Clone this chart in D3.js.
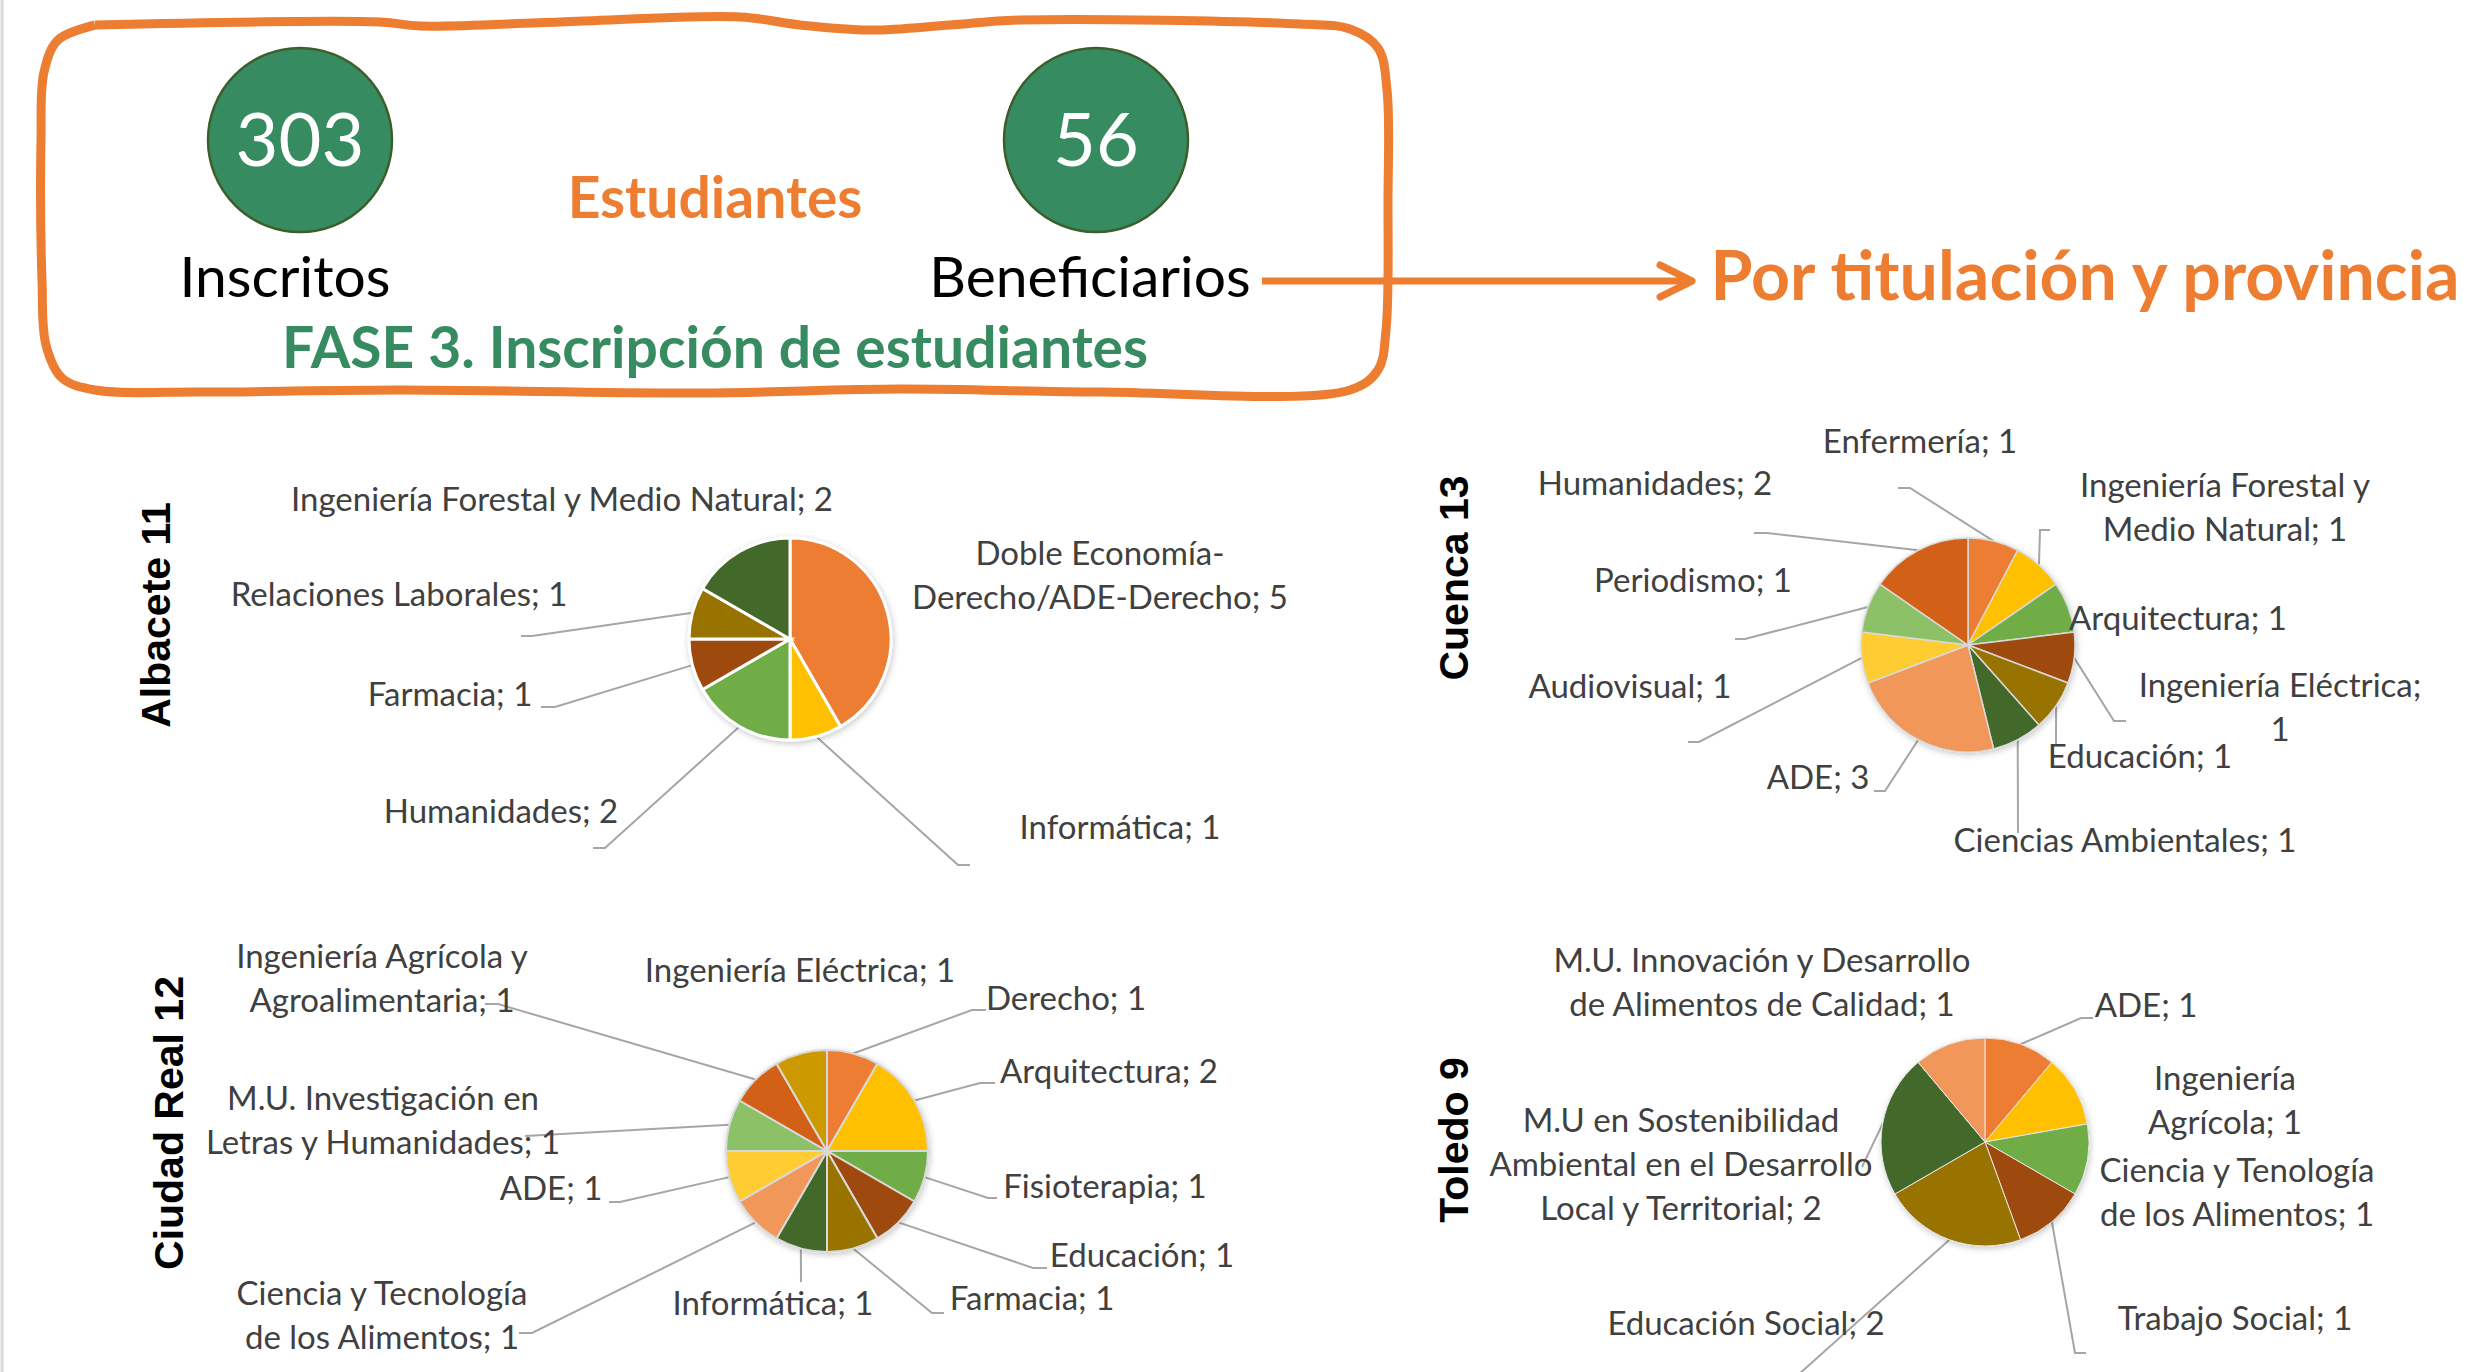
<!DOCTYPE html>
<html>
<head>
<meta charset="utf-8">
<script src="https://cdn.jsdelivr.net/npm/d3@7"></script>
<style>
  body { margin: 0; background: #fff; }
  svg { display: block; }
  .lbl { font-family: Lato, "Open Sans", sans-serif; fill: #404040; }
</style>
</head>
<body>
<div id="chart"></div>
<script>
// Totals for the header
var totals = [303, 56];
var totalNames = ["Inscritos", "Beneficiarios"];

// Province titles
var provinces = ["Albacete 11", "Cuenca 13", "Ciudad Real 12", "Toledo 9"];

// Albacete
var albNames = ["Doble Economía-Derecho/ADE-Derecho", "Informática", "Humanidades", "Farmacia",
  "Relaciones Laborales", "Ingeniería Forestal y Medio Natural"];
var albValues = [5, 1, 2, 1, 1, 2];

// Cuenca
var cueNames = ["Enfermería", "Ingeniería Forestal y Medio Natural", "Arquitectura", "Ingeniería Eléctrica",
  "Educación", "Ciencias Ambientales", "ADE", "Audiovisual", "Periodismo", "Humanidades"];
var cueValues = [1, 1, 1, 1, 1, 1, 3, 1, 1, 2];

// Ciudad Real
var crNames = ["Derecho", "Arquitectura", "Fisioterapia", "Educación", "Farmacia", "Informática",
  "Ciencia y Tecnología de los Alimentos", "ADE", "M.U. Investigación en Letras y Humanidades",
  "Ingeniería Agrícola y Agroalimentaria", "Ingeniería Eléctrica"];
var crValues = [1, 2, 1, 1, 1, 1, 1, 1, 1, 1, 1];

// Toledo
var toNames = ["ADE", "Ingeniería Agrícola", "Ciencia y Tenología de los Alimentos", "Trabajo Social",
  "Educación Social", "M.U en Sostenibilidad Ambiental en el Desarrollo Local y Territorial",
  "M.U. Innovación y Desarrollo de Alimentos de Calidad"];
var toValues = [1, 1, 1, 1, 2, 2, 1];

var palette = ["#ED7D31", "#FFC000", "#70AD47", "#9E480E", "#997300", "#43682B",
  "#F1975A", "#FFCD33", "#8CC168", "#D26012", "#CC9A06"];

var W = 2492, H = 1372;
var svg = d3.select("#chart").append("svg")
  .attr("width", W).attr("height", H);

svg.append("rect").attr("width", W).attr("height", H).attr("fill", "#fff");
svg.append("line").attr("x1", 2).attr("x2", 2).attr("y1", 0).attr("y2", H)
  .attr("stroke", "#d9d9d9").attr("stroke-width", 3);

var defs = svg.append("defs");
var f = defs.append("filter").attr("id", "shadow").attr("x", "-20%").attr("y", "-20%")
  .attr("width", "140%").attr("height", "140%");
f.append("feDropShadow").attr("dx", 1).attr("dy", 2).attr("stdDeviation", 3)
  .attr("flood-color", "#000").attr("flood-opacity", 0.22);

// ---- header box (hand drawn look)
var boxPts = [[95,25],[380,22],[420,26],[560,22],[740,17],[800,25],[870,30],[950,25],[1020,20],
  [1300,24],[1350,29],[1378,48],[1387,90],[1388,200],[1386,330],[1378,370],[1350,390],
  [1100,392],[900,389],[700,393],[400,390],[200,392],[95,390],[62,378],[46,345],[42,280],
  [41,140],[44,72],[58,40],[95,25]];
svg.append("path")
  .attr("d", d3.line().curve(d3.curveCatmullRom)(boxPts))
  .attr("fill", "none").attr("stroke", "#ED7D31").attr("stroke-width", 9)
  .attr("stroke-linejoin", "round");

// arrow
svg.append("line").attr("x1", 1262).attr("x2", 1690).attr("y1", 281).attr("y2", 281)
  .attr("stroke", "#ED7D31").attr("stroke-width", 7);
svg.append("path").attr("d", "M1660,265 L1692,281 L1660,297")
  .attr("fill", "none").attr("stroke", "#ED7D31").attr("stroke-width", 7)
  .attr("stroke-linecap", "round").attr("stroke-linejoin", "round");

var bubbleX = d3.scalePoint().domain(totalNames).range([300, 1096]);
totalNames.forEach(function(n, i) {
  var cx = bubbleX(n);
  svg.append("circle").attr("cx", cx).attr("cy", 140).attr("r", 92)
    .attr("fill", "#368C60").attr("stroke", "#3B5E2B").attr("stroke-width", 2.5);
  svg.append("text").attr("x", cx).attr("y", 166).attr("text-anchor", "middle")
    .attr("font-family", "Lato, sans-serif").attr("font-size", 74).attr("fill", "#fff")
    .text(totals[i]);
  svg.append("text").attr("x", i === 0 ? 285 : 1090).attr("y", 297).attr("text-anchor", "middle")
    .attr("font-family", "Lato, sans-serif").attr("font-size", 57).attr("fill", "#000")
    .text(n);
});

svg.append("text").attr("x", 715).attr("y", 218).attr("text-anchor", "middle")
  .attr("font-family", "Lato, sans-serif").attr("font-weight", "bold").attr("font-size", 57)
  .attr("fill", "#ED7D31").text("Estudiantes");
svg.append("text").attr("x", 715).attr("y", 368).attr("text-anchor", "middle")
  .attr("font-family", "Lato, sans-serif").attr("font-weight", "bold").attr("font-size", 57)
  .attr("fill", "#368C60").text("FASE 3. Inscripción de estudiantes");
svg.append("text").attr("x", 2085).attr("y", 300).attr("text-anchor", "middle")
  .attr("font-family", "Lato, sans-serif").attr("font-weight", "bold").attr("font-size", 68)
  .attr("fill", "#ED7D31").text("Por titulación y provincia");

// ---- pie layouts: label anchors and leader ends (layout only)
var pies = [
  { names: albNames, values: albValues, title: provinces[0], cx: 790, cy: 639, r: 101,
    tx: 170, ty: 615, stroke: "#fff", sw: 3,
    labels: [
      { x: 1100, y: 565, br: [15] },
      { x: 1120, y: 839, lead: [[958,865],[970,865]] },
      { x: 501, y: 823, lead: [[605,848],[593,848]] },
      { x: 450, y: 706, lead: [[555,707],[541,707]] },
      { x: 399, y: 606, lead: [[532,636],[521,636]] },
      { x: 562, y: 511 }
    ] },
  { names: cueNames, values: cueValues, title: provinces[1], cx: 1968, cy: 645, r: 107,
    tx: 1468, ty: 578, stroke: "#d9d9d9", sw: 1.5,
    labels: [
      { x: 1920, y: 453, lead: [[1910,488],[1898,488]] },
      { x: 2225, y: 497, br: [22], lead: [[2040,530],[2050,530]] },
      { x: 2178, y: 630 },
      { x: 2280, y: 697, br: [22], lead: [[2114,721],[2126,721]] },
      { x: 2140, y: 768, lead: [[2056,745]] },
      { x: 2125, y: 852, lead: [[2018,833]] },
      { x: 1818, y: 789, lead: [[1885,791],[1874,791]] },
      { x: 1630, y: 698, lead: [[1699,742],[1688,742]] },
      { x: 1693, y: 592, lead: [[1745,639],[1735,639]] },
      { x: 1655, y: 495, lead: [[1767,533],[1754,533]] }
    ] },
  { names: crNames, values: crValues, title: provinces[2], cx: 827, cy: 1151, r: 101,
    tx: 183, ty: 1123, stroke: "#d9d9d9", sw: 2,
    labels: [
      { x: 1066, y: 1010, lead: [[972,1010],[986,1010]] },
      { x: 1109, y: 1083, lead: [[980,1083],[995,1083]] },
      { x: 1105, y: 1198, lead: [[988,1198],[997,1198]] },
      { x: 1142, y: 1267, lead: [[1033,1268],[1047,1268]] },
      { x: 1032, y: 1310, lead: [[932,1313],[944,1313]] },
      { x: 773, y: 1315, lead: [[801,1282]] },
      { x: 382, y: 1305, br: [20], lead: [[532,1333],[519,1333]] },
      { x: 551, y: 1200, lead: [[620,1202],[609,1202]] },
      { x: 383, y: 1110, br: [21], lead: [[525,1136]] },
      { x: 382, y: 968, br: [21], lead: [[498,1004],[485,1004]] },
      { x: 800, y: 982 }
    ] },
  { names: toNames, values: toValues, title: provinces[3], cx: 1985, cy: 1142, r: 104,
    tx: 1468, ty: 1140, stroke: "#e6e6e6", sw: 1,
    labels: [
      { x: 2146, y: 1017, lead: [[2081,1018],[2093,1018]] },
      { x: 2225, y: 1090, br: [10] },
      { x: 2237, y: 1182, br: [19] },
      { x: 2235, y: 1330, lead: [[2075,1353],[2086,1353]] },
      { x: 1746, y: 1335, lead: [[1770,1400]] },
      { x: 1681, y: 1132, br: [21, 48], lead: [[1862,1167]] },
      { x: 1762, y: 972, br: [28] }
    ] }
];

var pie = d3.pie().sort(null).value(function(d) { return d; });

function splitLabel(s, br) {
  if (!br) return [s];
  var out = [], prev = 0;
  br.forEach(function(b) { out.push(s.slice(prev, b).trim()); prev = b; });
  out.push(s.slice(prev).trim());
  return out;
}

pies.forEach(function(p) {
  var arcs = pie(p.values);
  var arc = d3.arc().innerRadius(0).outerRadius(p.r);
  var g = svg.append("g");

  // leader lines
  arcs.forEach(function(a, i) {
    var L = p.labels[i];
    if (!L.lead) return;
    var mid = (a.startAngle + a.endAngle) / 2;
    var start = [p.cx + p.r * Math.sin(mid), p.cy - p.r * Math.cos(mid)];
    g.append("path").attr("d", d3.line()([start].concat(L.lead)))
      .attr("fill", "none").attr("stroke", "#a6a6a6").attr("stroke-width", 2);
  });

  var pg = g.append("g").attr("transform", "translate(" + p.cx + "," + p.cy + ")")
    .attr("filter", "url(#shadow)");
  pg.selectAll("path").data(arcs).enter().append("path")
    .attr("d", arc)
    .attr("fill", function(d, i) { return palette[i % palette.length]; })
    .attr("stroke", p.stroke).attr("stroke-width", p.sw);

  // data labels
  arcs.forEach(function(a, i) {
    var L = p.labels[i];
    var lines = splitLabel(p.names[i] + "; " + p.values[i], L.br);
    var t = g.append("text").attr("class", "lbl").attr("font-size", 33)
      .attr("text-anchor", "middle");
    lines.forEach(function(ln, k) {
      t.append("tspan").attr("x", L.x).attr("y", L.y + k * 44).text(ln);
    });
  });

  // rotated province title
  svg.append("text").attr("transform", "translate(" + p.tx + "," + p.ty + ") rotate(-90)")
    .attr("text-anchor", "middle").attr("font-family", "Liberation Sans, Arial, sans-serif")
    .attr("font-weight", "bold").attr("font-size", 41).attr("fill", "#000")
    .text(p.title);
});
</script>
</body>
</html>
